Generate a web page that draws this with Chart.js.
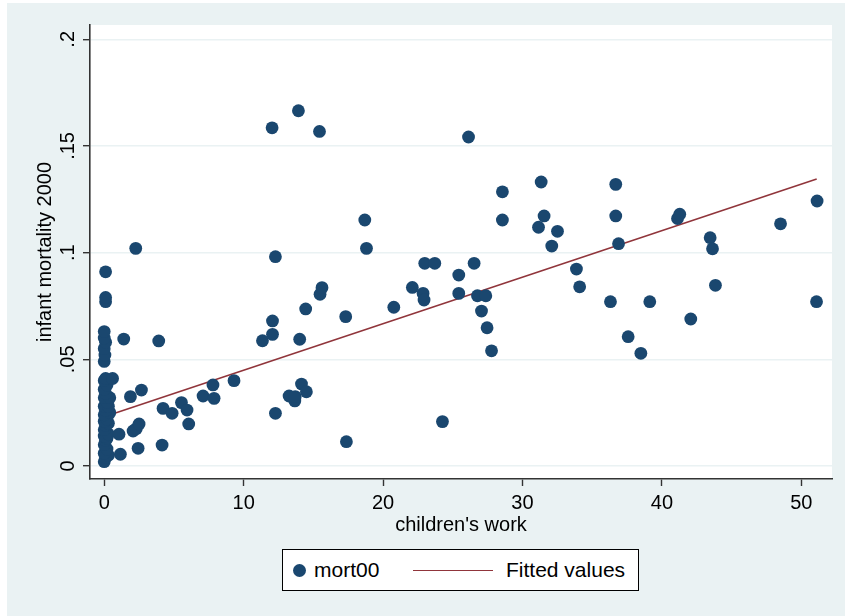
<!DOCTYPE html>
<html>
<head>
<meta charset="utf-8">
<script src="https://cdn.jsdelivr.net/npm/chart.js@4"></script>
<style>
  html, body { margin: 0; padding: 0; background: #ffffff; }
  #wrap { position: absolute; left: 7px; top: 3px; width: 838px; height: 613px; background: #eaf2f3; }
  #scatterChart { position: absolute; left: 0; top: 0; }
  #legend {
    position: absolute; left: 275px; top: 546px; width: 357px; height: 42px;
    box-sizing: border-box; border: 1px solid #000; background: #fff;
    font-family: "Liberation Sans", Arial, sans-serif; font-size: 21px; color: #000;
  }
  #legend .dot { position: absolute; left: 10px; top: 14px; width: 13px; height: 13px; border-radius: 50%; background: #1a476f; }
  #legend .txt { position: absolute; top: 8px; line-height: 24px; }
  #legend .ln { position: absolute; left: 130px; top: 20px; width: 80px; height: 0; border-top: 1.5px solid #90353b; }
</style>
</head>
<body>
<div id="wrap">
  <canvas id="scatterChart" width="838" height="613"></canvas>
  <div id="legend">
    <span class="dot"></span><span class="txt" style="left:31px">mort00</span>
    <span class="ln"></span><span class="txt" style="left:223px">Fitted values</span>
  </div>
</div>
<script>
// children's work (x) and infant mortality 2000 (y)
var workX = [
  0, 0.1, 0.3, 0, 0.2, 0, 0.1, 0.2, 0, 0.3, 0, 0.1, 0.3, 0, 0.2, 0, 0.4, 0.1, 0, 0.3,
  0.2, 0, 0.4, 0.1, 0, 0.2, 0, 0.1, 0.6,
  0, 0.05, 0, 0.1, 0, 0, 0.1, 0.1, 0.1,
  1.4, 3.91, 2.26, 1.88, 2.67, 1.06, 2.07, 2.3, 2.5, 1.16, 2.43, 4.15,
  4.22, 4.87, 5.54, 5.94, 6.06, 7.09, 7.8, 7.88, 9.31,
  11.35, 12.07, 12.07, 12.28, 12.04, 13.93, 15.44,
  12.28, 13.26, 13.67, 13.7, 14.15, 14.5, 14.02, 14.45, 15.48, 15.62,
  17.32, 17.37, 18.69, 18.81,
  20.77, 22.1, 22.87, 22.94, 22.99, 23.71, 24.26,
  25.43, 25.43, 26.13, 26.53, 26.77, 27.37, 27.06, 27.46, 27.78,
  28.56, 28.56, 31.15, 31.34, 31.55, 32.1, 32.51, 33.87, 34.1,
  36.31, 36.69, 36.69, 36.89, 37.58, 38.49, 39.13,
  41.12, 41.28, 42.07, 43.46, 43.63, 43.84, 48.51, 51.09, 51.13
];
var mortY = [
  0.002, 0.004, 0.005, 0.006, 0.008, 0.010, 0.012, 0.013, 0.014, 0.015, 0.017, 0.019, 0.020, 0.021, 0.022, 0.024, 0.025, 0.026, 0.028, 0.028,
  0.030, 0.032, 0.032, 0.034, 0.036, 0.038, 0.040, 0.041, 0.041,
  0.049, 0.052, 0.055, 0.058, 0.060, 0.063, 0.077, 0.079, 0.091,
  0.0595, 0.0586, 0.102, 0.0325, 0.0356, 0.0149, 0.0164, 0.0175, 0.0197, 0.0055, 0.0083, 0.0098,
  0.027, 0.0247, 0.0297, 0.0262, 0.0197, 0.0328, 0.038, 0.0317, 0.040,
  0.0587, 0.0617, 0.068, 0.0981, 0.1585, 0.1665, 0.1568,
  0.0247, 0.0328, 0.0305, 0.0325, 0.0384, 0.0348, 0.0594, 0.0736, 0.0805, 0.0836,
  0.070, 0.0114, 0.1153, 0.102,
  0.0744, 0.0837, 0.0809, 0.0778, 0.095, 0.095, 0.0208,
  0.0895, 0.0809, 0.1542, 0.095, 0.0798, 0.0798, 0.0726, 0.0648, 0.054,
  0.1285, 0.1153, 0.1119, 0.1331, 0.1172, 0.1031, 0.110, 0.0923, 0.084,
  0.077, 0.132, 0.1172, 0.1042, 0.0606, 0.0528, 0.077,
  0.116, 0.118, 0.0689, 0.107, 0.1018, 0.0847, 0.1135, 0.077, 0.1242
];
// fitted values line (ends)
var fitX = [0, 51.1];
var fitY = [0.0231, 0.1345];

var xTicks = [0, 10, 20, 30, 40, 50];
var yTicks = [0, 0.05, 0.1, 0.15, 0.2];
var yTickLabels = ['0', '.05', '.1', '.15', '.2'];

var navy = '#1a476f';
var maroon = '#90353b';
var bluishGray = '#eaf2f3';
var axisFont = { family: '"Liberation Sans", Arial, sans-serif', size: 20 };

function scatterChart() {
    var points = workX.map(function (x, i) { return { x: x, y: mortY[i] }; });
    var fitted = fitX.map(function (x, i) { return { x: x, y: fitY[i] }; });

    var ctx = document.getElementById('scatterChart').getContext('2d');
    var myChart = new Chart(ctx, {
        type: 'scatter',
        data: {
            datasets: [{
                label: 'mort00',
                data: points,
                backgroundColor: navy,
                borderWidth: 0,
                pointRadius: 6.4
            }, {
                label: 'Fitted values',
                type: 'line',
                data: fitted,
                borderColor: maroon,
                borderWidth: 1.6,
                pointRadius: 0,
                fill: false
            }]
        },
        options: {
            responsive: false,
            animation: false,
            devicePixelRatio: 1,
            layout: { padding: { top: 22, right: 13, left: 0, bottom: 77 } },
            plugins: {
                legend: { display: false },
                tooltip: { enabled: false }
            },
            scales: {
                x: {
                    type: 'linear',
                    min: -1.02,
                    max: 52.2,
                    afterFit: function (scale) { scale.height = 60; },
                    afterBuildTicks: function (scale) {
                        scale.ticks = xTicks.map(function (v) { return { value: v }; });
                    },
                    ticks: {
                        color: '#000',
                        font: axisFont,
                        padding: 5,
                        maxRotation: 0,
                        autoSkip: false
                    },
                    grid: {
                        drawOnChartArea: false,
                        tickLength: 7,
                        tickColor: '#333',
                        tickWidth: 1.4
                    },
                    border: { color: '#333', width: 1.6 },
                    title: {
                        display: true,
                        text: "children's work",
                        color: '#000',
                        font: axisFont,
                        padding: { top: 0, bottom: 2 }
                    }
                },
                y: {
                    type: 'linear',
                    min: -0.0061,
                    max: 0.2067,
                    afterFit: function (scale) { scale.width = 83; },
                    afterBuildTicks: function (scale) {
                        scale.ticks = yTicks.map(function (v) { return { value: v }; });
                    },
                    ticks: {
                        color: '#000',
                        font: axisFont,
                        padding: 1,
                        minRotation: 90,
                        maxRotation: 90,
                        crossAlign: 'center',
                        autoSkip: false,
                        callback: function (value) {
                            var i = yTicks.indexOf(value);
                            return i >= 0 ? yTickLabels[i] : '';
                        }
                    },
                    grid: {
                        color: bluishGray,
                        lineWidth: 1.4,
                        tickLength: 7,
                        tickColor: '#333',
                        tickWidth: 1.4
                    },
                    border: { color: '#333', width: 1.6 },
                    title: {
                        display: true,
                        text: 'infant mortality 2000',
                        color: '#000',
                        font: axisFont,
                        padding: { top: 26, bottom: 0 }
                    }
                }
            }
        },
        plugins: [{
            id: 'plotBackground',
            beforeDraw: function (chart) {
                var a = chart.chartArea;
                var c = chart.ctx;
                c.save();
                c.fillStyle = '#ffffff';
                c.fillRect(a.left, a.top, a.right - a.left, a.bottom - a.top);
                c.restore();
            }
        }]
    });
}
scatterChart();
</script>
</body>
</html>
